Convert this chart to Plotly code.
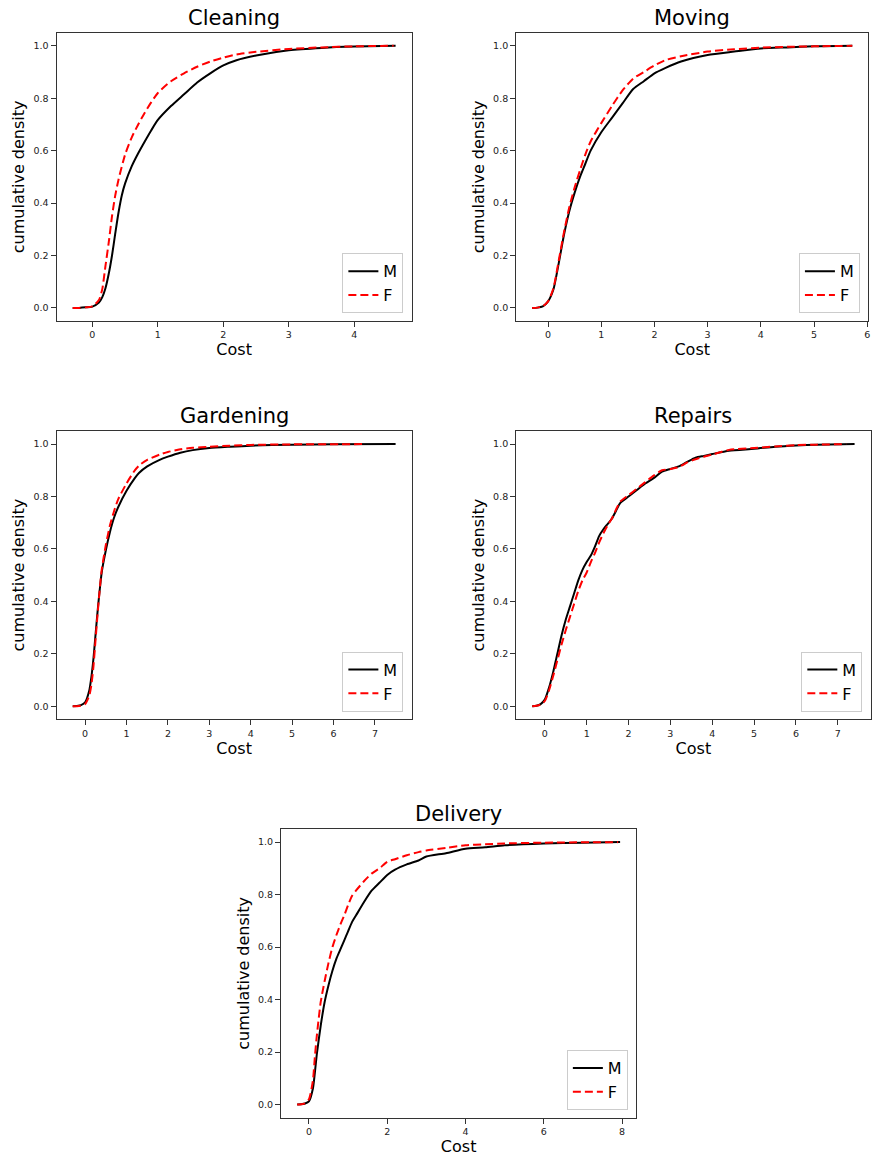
import plotly.graph_objects as go

# ---------------- data ----------------
titles = ["Cleaning", "Moving", "Gardening", "Repairs", "Delivery"]
series_names = ["M", "F"]

cleaning_m_x = [-0.3, -0.2, -0.1, 0.0, 0.1, 0.15, 0.2, 0.25, 0.3, 0.35, 0.4, 0.45, 0.5, 0.6, 0.7, 0.8, 0.9, 1.0, 1.2, 1.4, 1.6, 1.8, 2.0, 2.2, 2.5, 3.0, 3.5, 4.0, 4.63]
cleaning_m_y = [0.0, 0.0, 0.002, 0.005, 0.02, 0.04, 0.075, 0.13, 0.2, 0.285, 0.365, 0.43, 0.475, 0.54, 0.59, 0.635, 0.678, 0.717, 0.77, 0.815, 0.86, 0.895, 0.925, 0.945, 0.963, 0.983, 0.992, 0.997, 1.0]
cleaning_f_x = [-0.3, -0.2, -0.1, 0.0, 0.1, 0.15, 0.2, 0.25, 0.3, 0.35, 0.4, 0.5, 0.6, 0.7, 0.8, 0.9, 1.0, 1.2, 1.4, 1.6, 1.8, 2.0, 2.2, 2.5, 3.0, 3.5, 4.0, 4.6]
cleaning_f_y = [0.0, 0.0, 0.002, 0.006, 0.03, 0.07, 0.16, 0.25, 0.35, 0.43, 0.49, 0.585, 0.65, 0.7, 0.745, 0.785, 0.82, 0.865, 0.895, 0.92, 0.94, 0.955, 0.967, 0.977, 0.988, 0.994, 0.998, 1.0]

moving_m_x = [-0.3, -0.2, -0.1, 0.0, 0.1, 0.2, 0.3, 0.4, 0.5, 0.6, 0.7, 0.8, 1.0, 1.2, 1.4, 1.6, 1.8, 2.0, 2.2, 2.5, 3.0, 3.5, 4.0, 4.5, 5.0, 5.72]
moving_m_y = [0.0, 0.001, 0.006, 0.025, 0.07, 0.17, 0.28, 0.37, 0.44, 0.5, 0.55, 0.6, 0.67, 0.725, 0.78, 0.835, 0.865, 0.895, 0.915, 0.94, 0.965, 0.978, 0.99, 0.994, 0.998, 1.0]
moving_f_x = [-0.3, -0.2, -0.1, 0.0, 0.1, 0.2, 0.3, 0.4, 0.5, 0.6, 0.7, 0.8, 1.0, 1.2, 1.4, 1.6, 1.8, 2.0, 2.2, 2.5, 3.0, 3.5, 4.0, 4.5, 5.0, 5.72]
moving_f_y = [0.0, 0.001, 0.006, 0.025, 0.075, 0.18, 0.29, 0.385, 0.46, 0.525, 0.585, 0.635, 0.705, 0.77, 0.83, 0.875, 0.9, 0.925, 0.945, 0.96, 0.978, 0.987, 0.993, 0.996, 0.998, 1.0]

gardening_m_x = [-0.3, -0.2, -0.1, 0.0, 0.1, 0.15, 0.2, 0.25, 0.3, 0.35, 0.4, 0.5, 0.6, 0.7, 0.8, 1.0, 1.2, 1.3, 1.5, 1.8, 2.0, 2.3, 2.6, 3.0, 3.5, 4.0, 5.0, 6.0, 7.5]
gardening_m_y = [0.0, 0.001, 0.004, 0.015, 0.06, 0.11, 0.18, 0.27, 0.36, 0.44, 0.51, 0.595, 0.665, 0.72, 0.76, 0.822, 0.87, 0.89, 0.915, 0.94, 0.952, 0.967, 0.977, 0.985, 0.99, 0.994, 0.998, 0.999, 1.0]
gardening_f_x = [-0.3, -0.2, -0.1, 0.0, 0.1, 0.15, 0.2, 0.25, 0.3, 0.35, 0.4, 0.5, 0.6, 0.7, 0.8, 1.0, 1.2, 1.3, 1.5, 1.8, 2.0, 2.3, 2.6, 3.0, 3.5, 4.0, 5.0, 6.78]
gardening_f_y = [0.0, 0.0, 0.002, 0.008, 0.04, 0.08, 0.15, 0.25, 0.35, 0.44, 0.52, 0.615, 0.69, 0.745, 0.79, 0.85, 0.9, 0.918, 0.94, 0.96, 0.97, 0.98, 0.986, 0.99, 0.994, 0.997, 0.999, 1.0]

repairs_m_x = [-0.3, -0.2, -0.1, 0.0, 0.1, 0.2, 0.3, 0.4, 0.5, 0.6, 0.7, 0.8, 0.9, 1.0, 1.1, 1.2, 1.3, 1.4, 1.5, 1.6, 1.7, 1.8, 2.0, 2.2, 2.4, 2.6, 2.8, 3.0, 3.2, 3.4, 3.6, 3.8, 4.0, 4.4, 5.0, 5.5, 6.0, 6.5, 7.4]
repairs_m_y = [0.0, 0.002, 0.008, 0.025, 0.07, 0.13, 0.2, 0.27, 0.33, 0.38, 0.43, 0.48, 0.52, 0.55, 0.575, 0.61, 0.65, 0.675, 0.695, 0.715, 0.745, 0.775, 0.8, 0.825, 0.85, 0.87, 0.895, 0.905, 0.915, 0.932, 0.948, 0.955, 0.962, 0.975, 0.982, 0.99, 0.995, 0.998, 1.0]
repairs_f_x = [-0.3, -0.2, -0.1, 0.0, 0.1, 0.2, 0.3, 0.4, 0.5, 0.6, 0.7, 0.8, 0.9, 1.0, 1.1, 1.2, 1.3, 1.4, 1.5, 1.6, 1.7, 1.8, 2.0, 2.2, 2.4, 2.6, 2.8, 3.0, 3.2, 3.4, 3.6, 3.8, 4.0, 4.4, 5.0, 5.5, 6.0, 6.5, 7.2]
repairs_f_y = [0.0, 0.002, 0.006, 0.02, 0.06, 0.115, 0.175, 0.235, 0.29, 0.34, 0.39, 0.44, 0.48, 0.51, 0.55, 0.585, 0.625, 0.66, 0.69, 0.715, 0.75, 0.78, 0.805, 0.83, 0.855, 0.88, 0.9, 0.905, 0.912, 0.93, 0.942, 0.952, 0.96, 0.978, 0.985, 0.991, 0.996, 0.998, 1.0]

delivery_m_x = [-0.3, -0.2, -0.1, 0.0, 0.1, 0.15, 0.2, 0.3, 0.4, 0.5, 0.6, 0.7, 0.8, 0.9, 1.0, 1.1, 1.2, 1.4, 1.6, 1.8, 2.0, 2.2, 2.5, 2.8, 3.0, 3.5, 4.0, 4.5, 5.0, 6.0, 7.0, 7.95]
delivery_m_y = [0.0, 0.001, 0.004, 0.012, 0.06, 0.12, 0.19, 0.3, 0.39, 0.455, 0.51, 0.555, 0.59, 0.625, 0.66, 0.695, 0.72, 0.77, 0.815, 0.845, 0.875, 0.895, 0.915, 0.93, 0.945, 0.958, 0.975, 0.98, 0.988, 0.995, 0.998, 1.0]
delivery_f_x = [-0.3, -0.2, -0.1, 0.0, 0.1, 0.15, 0.2, 0.3, 0.4, 0.5, 0.6, 0.7, 0.8, 0.9, 1.0, 1.1, 1.2, 1.4, 1.6, 1.8, 2.0, 2.2, 2.5, 2.8, 3.0, 3.5, 4.0, 4.5, 5.0, 6.0, 7.9]
delivery_f_y = [0.0, 0.001, 0.005, 0.02, 0.09, 0.18, 0.26, 0.39, 0.47, 0.54, 0.6, 0.645, 0.685, 0.72, 0.76, 0.795, 0.815, 0.85, 0.88, 0.9, 0.925, 0.935, 0.95, 0.962, 0.968, 0.978, 0.988, 0.992, 0.995, 0.998, 1.0]

x_dticks = [1, 1, 1, 1, 2]
y_ticks = [0.0, 0.2, 0.4, 0.6, 0.8, 1.0]

panels = [
    (cleaning_m_x, cleaning_m_y, cleaning_f_x, cleaning_f_y),
    (moving_m_x, moving_m_y, moving_f_x, moving_f_y),
    (gardening_m_x, gardening_m_y, gardening_f_x, gardening_f_y),
    (repairs_m_x, repairs_m_y, repairs_f_x, repairs_f_y),
    (delivery_m_x, delivery_m_y, delivery_f_x, delivery_f_y),
]

# ---------------- layout geometry (pixels) ----------------
W, H = 874, 1158
boxes = [  # left, right, top, bottom
    (56.7, 412.7, 32.7, 321.0),
    (517.3, 870.3, 32.7, 321.0),
    (56.7, 412.7, 431.0, 719.3),
    (517.3, 872.7, 431.0, 719.3),
    (281.7, 637.7, 829.0, 1117.7),
]

FONT = "DejaVu Sans"
fig = go.Figure()
layout = dict(
    width=W, height=H,
    margin=dict(l=0, r=0, t=0, b=0),
    paper_bgcolor="white", plot_bgcolor="white",
    font=dict(family=FONT, color="black"),
    annotations=[],
)

for i, (title, (mx, my, fx, fy), dt, box) in enumerate(zip(titles, panels, x_dticks, boxes)):
    n = i + 1
    sfx = "" if n == 1 else str(n)
    leg = "legend" if n == 1 else f"legend{n}"
    fig.add_trace(go.Scatter(x=mx, y=my, mode="lines", name=series_names[0],
                             line=dict(color="black", width=2, shape="spline", smoothing=0.6),
                             xaxis="x" + sfx, yaxis="y" + sfx, legend=leg))
    fig.add_trace(go.Scatter(x=fx, y=fy, mode="lines", name=series_names[1],
                             line=dict(color="red", width=2, dash="8px,4px", shape="spline", smoothing=0.6),
                             xaxis="x" + sfx, yaxis="y" + sfx, legend=leg))
    l, r, t, b = box
    xmin = min(min(mx), min(fx)); xmax = max(max(mx), max(fx))
    span = xmax - xmin
    axis_common = dict(showgrid=False, zeroline=False, showline=True, mirror=True,
                       linecolor="#333333", linewidth=1, ticks="outside",
                       ticklen=5, tickwidth=1, tickcolor="#333333",
                       tickfont=dict(family=FONT, size=9.5, color="#222222"))
    layout["xaxis" + sfx] = dict(
        domain=[l / W, r / W], anchor="y" + sfx,
        range=[xmin - 0.05 * span, xmax + 0.05 * span],
        tick0=0, dtick=dt,
        title=dict(text="Cost", font=dict(family=FONT, size=16), standoff=4),
        **axis_common)
    layout["yaxis" + sfx] = dict(
        domain=[1 - b / H, 1 - t / H], anchor="x" + sfx,
        range=[-0.05, 1.05], tickvals=y_ticks, tickformat=".1f",
        title=dict(text="cumulative density", font=dict(family=FONT, size=16), standoff=4),
        **axis_common)
    layout["annotations"].append(dict(
        text=title, xref="paper", yref="paper", x=(l + r) / 2 / W, y=1 - t / H,
        xanchor="center", yanchor="bottom", yshift=1, showarrow=False,
        font=dict(family=FONT, size=21, color="black")))
    layout[leg] = dict(
        x=(r - 8.4) / W, y=1 - (b - 7.7) / H, xanchor="right", yanchor="bottom",
        bgcolor="rgba(255,255,255,0.8)", bordercolor="#cccccc", borderwidth=1,
        font=dict(family=FONT, size=16, color="black"),
        itemwidth=30, tracegroupgap=0)

fig.update_layout(**layout)
fig.write_html("out.html")
